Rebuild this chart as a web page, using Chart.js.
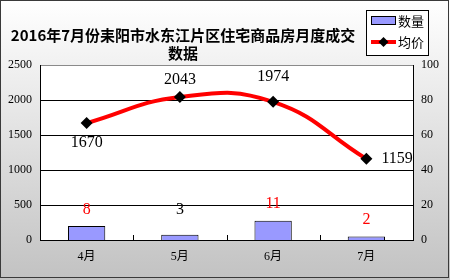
<!DOCTYPE html>
<html><head><meta charset="utf-8">
<script src="https://cdn.jsdelivr.net/npm/chart.js@4/dist/chart.umd.min.js"></script>
<style>html,body{margin:0;padding:0;background:#fff}canvas{display:block}</style>
</head>
<body><canvas id="c" width="450" height="280"></canvas>
<script>
const titleLines = ['2016年7月份耒阳市水东江片区住宅商品房月度成交', '数据'];
const months = ['4月', '5月', '6月', '7月'];
const countValues = [8, 3, 11, 2];
const priceValues = [1670, 2043, 1974, 1159];
const seriesNames = ['数量', '均价'];
const leftTicks = [0, 500, 1000, 1500, 2000, 2500];
const rightTicks = [0, 20, 40, 60, 80, 100];

// styling (not data)
const countLabelColors = ['#ff0000', '#000000', '#ff0000', '#ff0000'];
const countLabelOffsets = [16, 25, 17, 17];
const priceLabelPlacement = [['below', 20], ['above', 17], ['above', 25], ['right', 15]];
const labelFont = "16px 'Liberation Serif'";

const bgPlugin = {
  id: 'bg',
  beforeDraw(chart) {
    const ctx = chart.ctx, a = chart.chartArea;
    ctx.save();
    const g = ctx.createLinearGradient(0, 0, 0, chart.height);
    g.addColorStop(0, '#ffffff');
    g.addColorStop(1, '#c2c2c2');
    ctx.fillStyle = g;
    ctx.fillRect(0, 0, chart.width, chart.height);
    ctx.fillStyle = '#ffffff';
    ctx.fillRect(a.left, a.top, a.right - a.left, a.bottom - a.top);
    ctx.restore();
  },
  afterDraw(chart) {
    const ctx = chart.ctx;
    ctx.save();
    ctx.strokeStyle = '#3a3a3a';
    ctx.lineWidth = 1;
    ctx.strokeRect(0.5, 0.5, 448, 277);
    ctx.fillStyle = '#000';
    ctx.font = "bold 15px 'Noto Sans CJK SC'";
    ctx.textAlign = 'center';
    ctx.textBaseline = 'middle';
    ctx.fillText(titleLines[0], 183, 35);
    ctx.fillText(titleLines[1], 183, 53);
    ctx.fillStyle = '#ffffff';
    ctx.fillRect(366.5, 10.5, 62, 45);
    ctx.strokeStyle = '#000';
    ctx.strokeRect(366.5, 10.5, 62, 45);
    const ds = chart.data.datasets;
    ctx.fillStyle = ds[1].backgroundColor;
    ctx.fillRect(371.5, 16.5, 24, 8);
    ctx.strokeStyle = ds[1].borderColor;
    ctx.strokeRect(371.5, 16.5, 24, 8);
    ctx.strokeStyle = ds[0].borderColor;
    ctx.lineWidth = 4;
    ctx.beginPath(); ctx.moveTo(371, 42); ctx.lineTo(396, 42); ctx.stroke();
    ctx.fillStyle = '#000';
    ctx.beginPath(); ctx.moveTo(383.5, 37); ctx.lineTo(388.5, 42); ctx.lineTo(383.5, 47); ctx.lineTo(378.5, 42); ctx.closePath(); ctx.fill();
    ctx.font = "13px 'Noto Sans CJK SC'";
    ctx.textAlign = 'left';
    ctx.fillText(ds[1].label, 398, 21);
    ctx.fillText(ds[0].label, 398, 42);
    ctx.restore();
  },
  afterDatasetsDraw(chart) {
    const ctx = chart.ctx;
    ctx.save();
    ctx.textBaseline = 'middle';
    ctx.font = labelFont;
    const lm = chart.getDatasetMeta(0);
    lm.data.forEach((pt, i) => {
      const [pl, off] = priceLabelPlacement[i];
      ctx.fillStyle = '#000';
      if (pl === 'right') { ctx.textAlign = 'left'; ctx.fillText(String(priceValues[i]), pt.x + off, pt.y); }
      else { ctx.textAlign = 'center'; ctx.fillText(String(priceValues[i]), pt.x, pl === 'below' ? pt.y + off : pt.y - off); }
    });
    const bm = chart.getDatasetMeta(1);
    bm.data.forEach((b, i) => {
      ctx.fillStyle = countLabelColors[i];
      ctx.textAlign = 'center';
      ctx.fillText(String(countValues[i]), b.x, b.y - countLabelOffsets[i]);
    });
    const xs = chart.scales.x;
    ctx.strokeStyle = '#000';
    ctx.lineWidth = 1;
    for (let i = 0; i < months.length - 1; i++) {
      const x = Math.round((xs.getPixelForValue(i) + xs.getPixelForValue(i + 1)) / 2) + 0.5;
      ctx.beginPath(); ctx.moveTo(x, chart.chartArea.bottom); ctx.lineTo(x, chart.chartArea.bottom - 5); ctx.stroke();
    }
    ctx.restore();
  }
};

new Chart(document.getElementById('c'), {
  data: {
    labels: months,
    datasets: [
      {
        type: 'line', label: seriesNames[1], data: priceValues, yAxisID: 'y',
        borderColor: '#ff0000', borderWidth: 4, tension: 0.45,
        pointStyle: 'rectRot', pointRadius: 6, pointBackgroundColor: '#000', pointBorderColor: '#000', pointBorderWidth: 0,
        order: 0
      },
      {
        type: 'bar', label: seriesNames[0], data: countValues, yAxisID: 'y1',
        backgroundColor: '#9999ff', borderColor: '#000000', borderWidth: 1,
        barPercentage: 0.4, categoryPercentage: 1, order: 1
      }
    ]
  },
  options: {
    responsive: false, animation: false,
    layout: { padding: { top: 65, left: 0, right: 0, bottom: 0 } },
    plugins: { legend: { display: false }, title: { display: false }, tooltip: { enabled: false } },
    scales: {
      x: {
        offset: true,
        grid: { display: false, drawTicks: false },
        border: { display: true, color: '#000', width: 1 },
        ticks: { color: '#000', font: { size: 12, family: "'Liberation Serif', 'Noto Sans CJK SC'" }, padding: 10 },
        afterFit(s) { s.height = 40; }
      },
      y: {
        position: 'left',
        min: leftTicks[0], max: leftTicks[leftTicks.length - 1],
        ticks: { stepSize: leftTicks[1] - leftTicks[0], color: '#000', padding: 8, font: { size: 12, family: "'Liberation Serif'" }, callback: (v) => String(v) },
        grid: { drawTicks: false, color: (c) => c.tick && c.tick.value === leftTicks[leftTicks.length - 1] ? '#8a8a8a' : '#000', lineWidth: 1 },
        border: { display: true, color: '#000', width: 1 },
        afterFit(s) { s.width = 40; }
      },
      y1: {
        position: 'right',
        min: rightTicks[0], max: rightTicks[rightTicks.length - 1],
        ticks: { stepSize: rightTicks[1] - rightTicks[0], color: '#000', padding: 8, font: { size: 12, family: "'Liberation Serif'" }, callback: (v) => String(v) },
        grid: { display: false, drawTicks: false },
        border: { display: true, color: '#000', width: 1 },
        afterFit(s) { s.width = 37; }
      }
    }
  },
  plugins: [bgPlugin]
});
</script>
</body></html>
